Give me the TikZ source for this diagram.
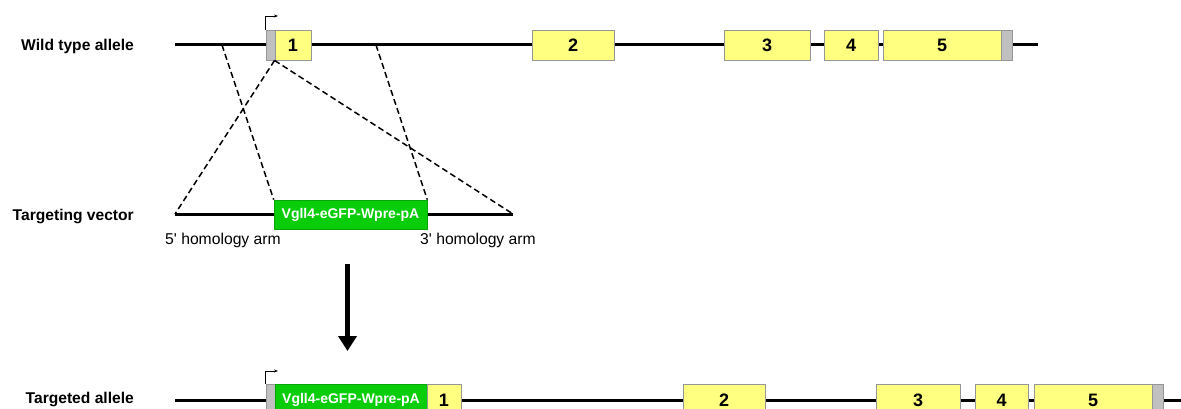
\documentclass[tikz,border=0pt]{standalone}
\usepackage{fontspec}
\setmainfont{Liberation Sans}
\usetikzlibrary{arrows.meta}
\definecolor{exonyellow}{RGB}{255,255,128}
\definecolor{utrgrey}{RGB}{192,192,192}
\definecolor{boxedge}{RGB}{150,150,150}
\definecolor{cassette}{RGB}{10,205,10}
\tikzset{
  exon/.style={draw=boxedge, line width=0.9pt, fill=exonyellow, minimum height=30pt, inner sep=0pt,
    font=\fontsize{18}{20}\selectfont\bfseries},
  utr/.style={draw=boxedge, line width=0.9pt, fill=utrgrey, minimum height=30pt, inner sep=0pt},
  gfp/.style={draw=cassette!80!black, line width=0.6pt, fill=cassette, minimum height=30pt, inner sep=0pt, text=white,
    font=\fontsize{14}{16}\selectfont\bfseries},
  backbone/.style={line width=3pt, black},
  homol/.style={line width=1.5pt, dash pattern=on 6pt off 3.5pt},
  rowlabel/.style={font=\fontsize{15.6}{17}\selectfont\bfseries, inner sep=0pt, anchor=base east},
  armlabel/.style={font=\fontsize{15.7}{17}\selectfont, inner sep=0pt, anchor=base west},
  promoter/.style={line width=0.8pt, -{Stealth[length=4pt,width=3pt]}},
  bigarrow/.style={line width=5.5pt, -{Triangle[length=15pt,width=18pt]}}
}
\begin{document}
\begin{tikzpicture}[x=1pt,y=-1pt]
\useasboundingbox (0,0) rectangle (1181,409);
\clip (0,0) rectangle (1181,409);
% ---------- Wild type allele ----------
\node[rowlabel] (lwt) at (134,51) {Wild type allele};
\coordinate (wl) at (175,45);
\coordinate (wr) at (1038,45);
\draw[backbone] (wl) -- (wr);
\node[utr, minimum width=9pt] (wg0) at (270.5,45) {};
\node[exon, minimum width=36pt] (w1) at (293,45) {1};
\node[exon, minimum width=82pt] (w2) at (573,45) {2};
\node[exon, minimum width=86pt] (w3) at (767,45) {3};
\node[exon, minimum width=54pt] (w4) at (851,45) {4};
\node[exon, minimum width=118pt] (w5) at (942,45) {5};
\node[utr, minimum width=11pt] (wg5) at (1006.5,45) {};
\coordinate (wp) at (278,16);
\draw[promoter] (wg0.north west) |- (wp);
\coordinate (h5a) at (222,45);
\coordinate (h3a) at (376,45);
% ---------- Targeting vector ----------
\node[rowlabel] (ltv) at (134,220) {Targeting vector};
\coordinate (tl) at (175,214);
\coordinate (tr) at (513,214);
\draw[backbone] (tl) -- (tr);
\node[gfp, minimum width=153pt, minimum height=29pt] (tg) at (350.5,214.5) {Vgll4-eGFP-Wpre-pA};
\node[armlabel] (a5) at (165,244) {5\textquotesingle{} homology arm};
\node[armlabel] (a3) at (420,244) {3\textquotesingle{} homology arm};
% dashed homology lines
\draw[homol] (h5a) -- (tg.north west);
\draw[homol] (w1.south west) -- (tl);
\draw[homol] (w1.south west) -- (tr);
\draw[homol] (h3a) -- (tg.north east);
% ---------- big arrow ----------
\coordinate (ba) at (347.5,264);
\coordinate (bb) at (347.5,351);
\draw[bigarrow] (ba) -- (bb);
% ---------- Targeted allele ----------
\node[rowlabel] (lta) at (134,403) {Targeted allele};
\coordinate (al) at (175,400);
\coordinate (ar) at (1181,400);
\draw[backbone] (al) -- (ar);
\node[utr, minimum width=9pt, minimum height=32pt] (ag0) at (270.5,400) {};
\node[gfp, minimum width=152pt, minimum height=32pt] (ag) at (351,400) {Vgll4-eGFP-Wpre-pA};
\node[exon, minimum width=34pt, minimum height=32pt] (a1) at (444,400) {1};
\node[exon, minimum width=82pt, minimum height=32pt] (a2) at (724,400) {2};
\node[exon, minimum width=84pt, minimum height=32pt] (a3x) at (918,400) {3};
\node[exon, minimum width=53pt, minimum height=32pt] (a4) at (1001.5,400) {4};
\node[exon, minimum width=118pt, minimum height=32pt] (a5x) at (1093,400) {5};
\node[utr, minimum width=11pt, minimum height=32pt] (ag5) at (1157.5,400) {};
\coordinate (ap) at (278,371);
\draw[promoter] (ag0.north west) |- (ap);
\end{tikzpicture}
\end{document}
